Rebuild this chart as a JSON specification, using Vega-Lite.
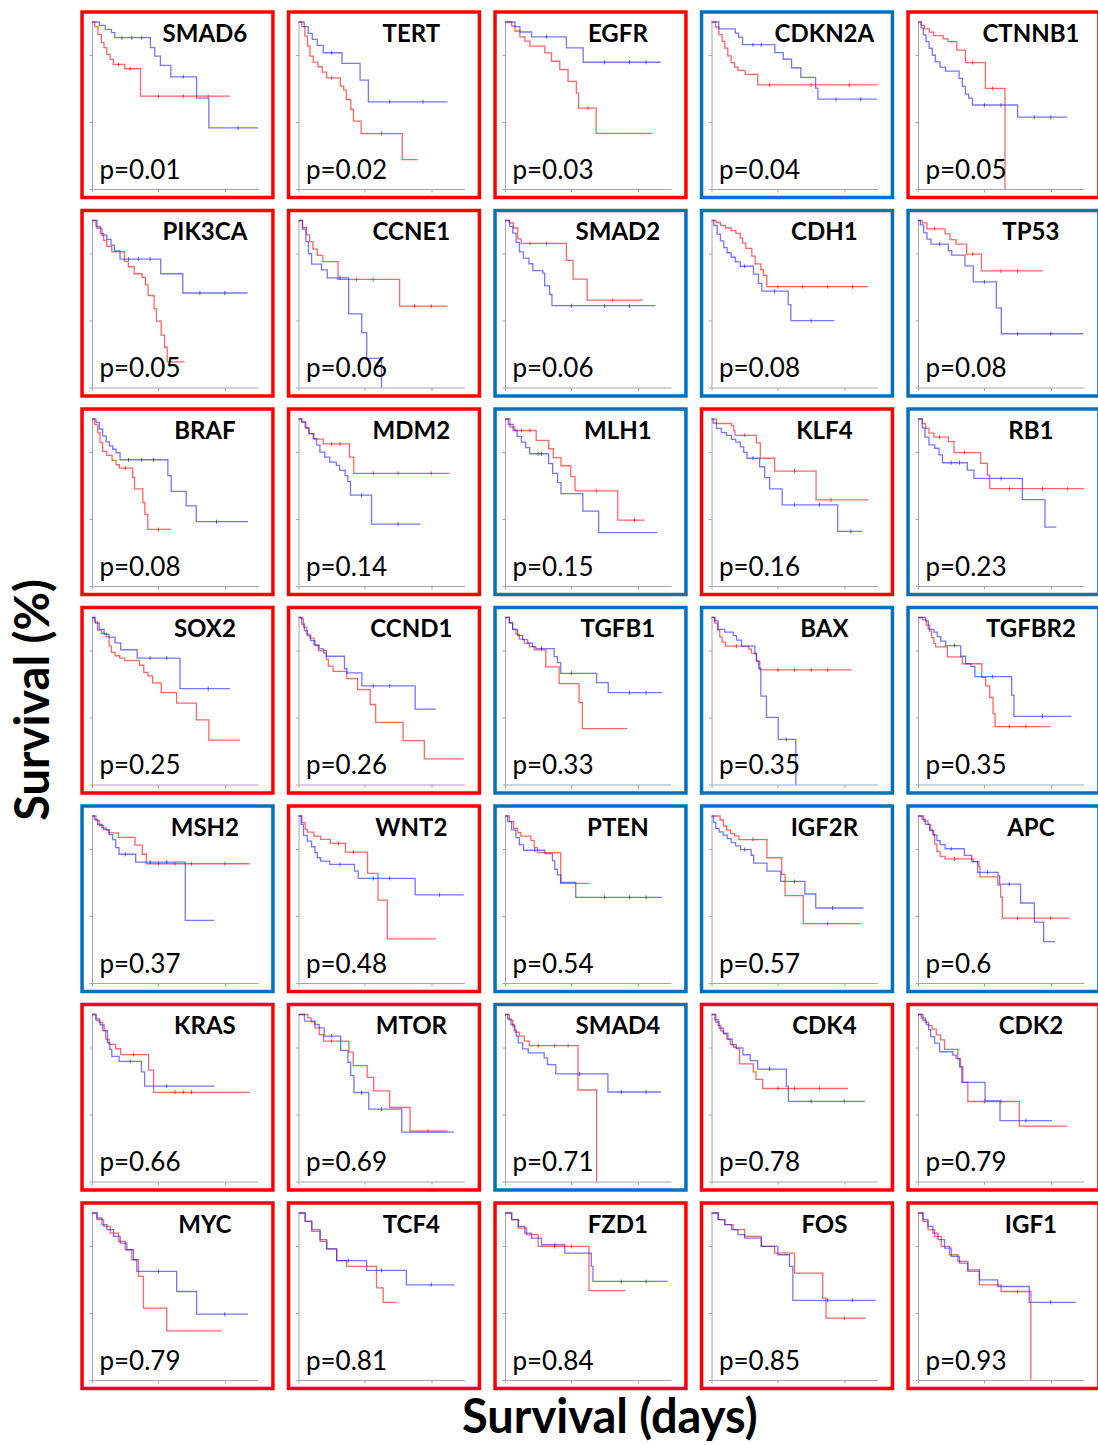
{
"$schema": "https://vega.github.io/schema/vega-lite/v6.json",
"padding": {"left": 10, "top": 10, "right": 0, "bottom": 5},
"title": {"text": "Survival (days)", "orient": "bottom", "fontSize": 47, "font": "Lato", "fontWeight": "bold", "color": "#000", "offset": 6, "dx": 451},
"datasets": {
"panels": [
{"k":"SMAD6","row":1,"col":1,"p":"p=0.01","box":"red"},
{"k":"TERT","row":1,"col":2,"p":"p=0.02","box":"red"},
{"k":"EGFR","row":1,"col":3,"p":"p=0.03","box":"red"},
{"k":"CDKN2A","row":1,"col":4,"p":"p=0.04","box":"blue"},
{"k":"CTNNB1","row":1,"col":5,"p":"p=0.05","box":"red"},
{"k":"PIK3CA","row":2,"col":1,"p":"p=0.05","box":"red"},
{"k":"CCNE1","row":2,"col":2,"p":"p=0.06","box":"red"},
{"k":"SMAD2","row":2,"col":3,"p":"p=0.06","box":"blue"},
{"k":"CDH1","row":2,"col":4,"p":"p=0.08","box":"blue"},
{"k":"TP53","row":2,"col":5,"p":"p=0.08","box":"blue"},
{"k":"BRAF","row":3,"col":1,"p":"p=0.08","box":"red"},
{"k":"MDM2","row":3,"col":2,"p":"p=0.14","box":"red"},
{"k":"MLH1","row":3,"col":3,"p":"p=0.15","box":"blue"},
{"k":"KLF4","row":3,"col":4,"p":"p=0.16","box":"red"},
{"k":"RB1","row":3,"col":5,"p":"p=0.23","box":"blue"},
{"k":"SOX2","row":4,"col":1,"p":"p=0.25","box":"red"},
{"k":"CCND1","row":4,"col":2,"p":"p=0.26","box":"red"},
{"k":"TGFB1","row":4,"col":3,"p":"p=0.33","box":"blue"},
{"k":"BAX","row":4,"col":4,"p":"p=0.35","box":"blue"},
{"k":"TGFBR2","row":4,"col":5,"p":"p=0.35","box":"blue"},
{"k":"MSH2","row":5,"col":1,"p":"p=0.37","box":"blue"},
{"k":"WNT2","row":5,"col":2,"p":"p=0.48","box":"red"},
{"k":"PTEN","row":5,"col":3,"p":"p=0.54","box":"blue"},
{"k":"IGF2R","row":5,"col":4,"p":"p=0.57","box":"blue"},
{"k":"APC","row":5,"col":5,"p":"p=0.6","box":"blue"},
{"k":"KRAS","row":6,"col":1,"p":"p=0.66","box":"red"},
{"k":"MTOR","row":6,"col":2,"p":"p=0.69","box":"red"},
{"k":"SMAD4","row":6,"col":3,"p":"p=0.71","box":"blue"},
{"k":"CDK4","row":6,"col":4,"p":"p=0.78","box":"red"},
{"k":"CDK2","row":6,"col":5,"p":"p=0.79","box":"red"},
{"k":"MYC","row":7,"col":1,"p":"p=0.79","box":"red"},
{"k":"TCF4","row":7,"col":2,"p":"p=0.81","box":"red"},
{"k":"FZD1","row":7,"col":3,"p":"p=0.84","box":"red"},
{"k":"FOS","row":7,"col":4,"p":"p=0.85","box":"red"},
{"k":"IGF1","row":7,"col":5,"p":"p=0.93","box":"red"}
],
"curves": [
{"k":"SMAD6","g":"r","t":0,"s":1},{"k":"SMAD6","g":"r","t":0.016,"s":0.972},{"k":"SMAD6","g":"r","t":0.036,"s":0.926},{"k":"SMAD6","g":"r","t":0.056,"s":0.876},{"k":"SMAD6","g":"r","t":0.072,"s":0.846},{"k":"SMAD6","g":"r","t":0.089,"s":0.806},{"k":"SMAD6","g":"r","t":0.109,"s":0.776},{"k":"SMAD6","g":"r","t":0.129,"s":0.746},{"k":"SMAD6","g":"r","t":0.197,"s":0.72},{"k":"SMAD6","g":"r","t":0.292,"s":0.556},{"k":"SMAD6","g":"r","t":0.831,"s":0.556},
{"k":"SMAD6","g":"r","t":0.16,"s":0.746,"c":1},{"k":"SMAD6","g":"r","t":0.23,"s":0.72,"c":1},{"k":"SMAD6","g":"r","t":0.4,"s":0.556,"c":1},{"k":"SMAD6","g":"r","t":0.55,"s":0.556,"c":1},{"k":"SMAD6","g":"r","t":0.7,"s":0.556,"c":1},
{"k":"SMAD6","g":"b","t":0,"s":1},{"k":"SMAD6","g":"b","t":0.044,"s":0.98},{"k":"SMAD6","g":"b","t":0.08,"s":0.956},{"k":"SMAD6","g":"b","t":0.117,"s":0.936},{"k":"SMAD6","g":"b","t":0.137,"s":0.906},{"k":"SMAD6","g":"b","t":0.352,"s":0.846},{"k":"SMAD6","g":"b","t":0.378,"s":0.796},{"k":"SMAD6","g":"b","t":0.412,"s":0.74},{"k":"SMAD6","g":"b","t":0.475,"s":0.672},{"k":"SMAD6","g":"b","t":0.63,"s":0.544},{"k":"SMAD6","g":"b","t":0.704,"s":0.366},{"k":"SMAD6","g":"b","t":1,"s":0.366},
{"k":"SMAD6","g":"b","t":0.18,"s":0.906,"c":1},{"k":"SMAD6","g":"b","t":0.24,"s":0.906,"c":1},{"k":"SMAD6","g":"b","t":0.3,"s":0.906,"c":1},{"k":"SMAD6","g":"b","t":0.55,"s":0.672,"c":1},{"k":"SMAD6","g":"b","t":0.88,"s":0.366,"c":1},

{"k":"TERT","g":"r","t":0,"s":1},{"k":"TERT","g":"r","t":0.02,"s":0.972},{"k":"TERT","g":"r","t":0.038,"s":0.916},{"k":"TERT","g":"r","t":0.054,"s":0.856},{"k":"TERT","g":"r","t":0.069,"s":0.796},{"k":"TERT","g":"r","t":0.089,"s":0.76},{"k":"TERT","g":"r","t":0.117,"s":0.732},{"k":"TERT","g":"r","t":0.143,"s":0.7},{"k":"TERT","g":"r","t":0.169,"s":0.666},{"k":"TERT","g":"r","t":0.252,"s":0.616},{"k":"TERT","g":"r","t":0.272,"s":0.592},{"k":"TERT","g":"r","t":0.288,"s":0.536},{"k":"TERT","g":"r","t":0.315,"s":0.476},{"k":"TERT","g":"r","t":0.331,"s":0.406},{"k":"TERT","g":"r","t":0.377,"s":0.332},{"k":"TERT","g":"r","t":0.625,"s":0.176},{"k":"TERT","g":"r","t":0.718,"s":0.176},
{"k":"TERT","g":"r","t":0.2,"s":0.666,"c":1},{"k":"TERT","g":"r","t":0.5,"s":0.332,"c":1},
{"k":"TERT","g":"b","t":0,"s":1},{"k":"TERT","g":"b","t":0.034,"s":0.972},{"k":"TERT","g":"b","t":0.058,"s":0.932},{"k":"TERT","g":"b","t":0.083,"s":0.896},{"k":"TERT","g":"b","t":0.113,"s":0.86},{"k":"TERT","g":"b","t":0.149,"s":0.816},{"k":"TERT","g":"b","t":0.262,"s":0.752},{"k":"TERT","g":"b","t":0.371,"s":0.652},{"k":"TERT","g":"b","t":0.421,"s":0.522},{"k":"TERT","g":"b","t":0.897,"s":0.522},
{"k":"TERT","g":"b","t":0.2,"s":0.816,"c":1},{"k":"TERT","g":"b","t":0.55,"s":0.522,"c":1},{"k":"TERT","g":"b","t":0.75,"s":0.522,"c":1},

{"k":"EGFR","g":"r","t":0,"s":1},{"k":"EGFR","g":"r","t":0.04,"s":0.976},{"k":"EGFR","g":"r","t":0.06,"s":0.946},{"k":"EGFR","g":"r","t":0.09,"s":0.911},{"k":"EGFR","g":"r","t":0.12,"s":0.886},{"k":"EGFR","g":"r","t":0.15,"s":0.855},{"k":"EGFR","g":"r","t":0.24,"s":0.815},{"k":"EGFR","g":"r","t":0.28,"s":0.765},{"k":"EGFR","g":"r","t":0.33,"s":0.715},{"k":"EGFR","g":"r","t":0.38,"s":0.645},{"k":"EGFR","g":"r","t":0.43,"s":0.574},{"k":"EGFR","g":"r","t":0.443,"s":0.484},{"k":"EGFR","g":"r","t":0.549,"s":0.333},{"k":"EGFR","g":"r","t":0.889,"s":0.333},
{"k":"EGFR","g":"r","t":0.5,"s":0.484,"c":1},
{"k":"EGFR","g":"b","t":0,"s":1},{"k":"EGFR","g":"b","t":0.06,"s":0.972},{"k":"EGFR","g":"b","t":0.09,"s":0.94},{"k":"EGFR","g":"b","t":0.16,"s":0.911},{"k":"EGFR","g":"b","t":0.37,"s":0.845},{"k":"EGFR","g":"b","t":0.471,"s":0.759},{"k":"EGFR","g":"b","t":0.938,"s":0.759},
{"k":"EGFR","g":"b","t":0.25,"s":0.911,"c":1},{"k":"EGFR","g":"b","t":0.6,"s":0.759,"c":1},{"k":"EGFR","g":"b","t":0.75,"s":0.759,"c":1},{"k":"EGFR","g":"b","t":0.85,"s":0.759,"c":1},

{"k":"CDKN2A","g":"r","t":0,"s":1},{"k":"CDKN2A","g":"r","t":0.024,"s":0.97},{"k":"CDKN2A","g":"r","t":0.044,"s":0.925},{"k":"CDKN2A","g":"r","t":0.064,"s":0.884},{"k":"CDKN2A","g":"r","t":0.08,"s":0.844},{"k":"CDKN2A","g":"r","t":0.098,"s":0.797},{"k":"CDKN2A","g":"r","t":0.118,"s":0.757},{"k":"CDKN2A","g":"r","t":0.139,"s":0.73},{"k":"CDKN2A","g":"r","t":0.159,"s":0.71},{"k":"CDKN2A","g":"r","t":0.203,"s":0.686},{"k":"CDKN2A","g":"r","t":0.279,"s":0.623},{"k":"CDKN2A","g":"r","t":1,"s":0.623},
{"k":"CDKN2A","g":"r","t":0.35,"s":0.623,"c":1},{"k":"CDKN2A","g":"r","t":0.6,"s":0.623,"c":1},{"k":"CDKN2A","g":"r","t":0.83,"s":0.623,"c":1},
{"k":"CDKN2A","g":"b","t":0,"s":1},{"k":"CDKN2A","g":"b","t":0.044,"s":0.959},{"k":"CDKN2A","g":"b","t":0.143,"s":0.933},{"k":"CDKN2A","g":"b","t":0.163,"s":0.909},{"k":"CDKN2A","g":"b","t":0.187,"s":0.864},{"k":"CDKN2A","g":"b","t":0.382,"s":0.817},{"k":"CDKN2A","g":"b","t":0.432,"s":0.777},{"k":"CDKN2A","g":"b","t":0.482,"s":0.726},{"k":"CDKN2A","g":"b","t":0.538,"s":0.669},{"k":"CDKN2A","g":"b","t":0.627,"s":0.604},{"k":"CDKN2A","g":"b","t":0.641,"s":0.538},{"k":"CDKN2A","g":"b","t":0.996,"s":0.538},
{"k":"CDKN2A","g":"b","t":0.25,"s":0.864,"c":1},{"k":"CDKN2A","g":"b","t":0.3,"s":0.864,"c":1},{"k":"CDKN2A","g":"b","t":0.75,"s":0.538,"c":1},{"k":"CDKN2A","g":"b","t":0.9,"s":0.538,"c":1},

{"k":"CTNNB1","g":"r","t":0,"s":1},{"k":"CTNNB1","g":"r","t":0.019,"s":0.98},{"k":"CTNNB1","g":"r","t":0.038,"s":0.959},{"k":"CTNNB1","g":"r","t":0.067,"s":0.939},{"k":"CTNNB1","g":"r","t":0.095,"s":0.919},{"k":"CTNNB1","g":"r","t":0.152,"s":0.899},{"k":"CTNNB1","g":"r","t":0.181,"s":0.882},{"k":"CTNNB1","g":"r","t":0.234,"s":0.832},{"k":"CTNNB1","g":"r","t":0.286,"s":0.757},{"k":"CTNNB1","g":"r","t":0.406,"s":0.602},{"k":"CTNNB1","g":"r","t":0.524,"s":0},
{"k":"CTNNB1","g":"r","t":0.33,"s":0.757,"c":1},{"k":"CTNNB1","g":"r","t":0.45,"s":0.602,"c":1},
{"k":"CTNNB1","g":"b","t":0,"s":1},{"k":"CTNNB1","g":"b","t":0.019,"s":0.963},{"k":"CTNNB1","g":"b","t":0.032,"s":0.923},{"k":"CTNNB1","g":"b","t":0.048,"s":0.882},{"k":"CTNNB1","g":"b","t":0.067,"s":0.842},{"k":"CTNNB1","g":"b","t":0.086,"s":0.801},{"k":"CTNNB1","g":"b","t":0.105,"s":0.761},{"k":"CTNNB1","g":"b","t":0.133,"s":0.73},{"k":"CTNNB1","g":"b","t":0.166,"s":0.706},{"k":"CTNNB1","g":"b","t":0.248,"s":0.663},{"k":"CTNNB1","g":"b","t":0.267,"s":0.615},{"k":"CTNNB1","g":"b","t":0.286,"s":0.568},{"k":"CTNNB1","g":"b","t":0.305,"s":0.544},{"k":"CTNNB1","g":"b","t":0.328,"s":0.503},{"k":"CTNNB1","g":"b","t":0.6,"s":0.43},{"k":"CTNNB1","g":"b","t":0.899,"s":0.43},
{"k":"CTNNB1","g":"b","t":0.4,"s":0.503,"c":1},{"k":"CTNNB1","g":"b","t":0.5,"s":0.503,"c":1},{"k":"CTNNB1","g":"b","t":0.7,"s":0.43,"c":1},{"k":"CTNNB1","g":"b","t":0.8,"s":0.43,"c":1},

{"k":"PIK3CA","g":"r","t":0,"s":1},{"k":"PIK3CA","g":"r","t":0.024,"s":0.964},{"k":"PIK3CA","g":"r","t":0.05,"s":0.922},{"k":"PIK3CA","g":"r","t":0.07,"s":0.881},{"k":"PIK3CA","g":"r","t":0.089,"s":0.845},{"k":"PIK3CA","g":"r","t":0.119,"s":0.813},{"k":"PIK3CA","g":"r","t":0.195,"s":0.755},{"k":"PIK3CA","g":"r","t":0.219,"s":0.723},{"k":"PIK3CA","g":"r","t":0.254,"s":0.681},{"k":"PIK3CA","g":"r","t":0.302,"s":0.66},{"k":"PIK3CA","g":"r","t":0.322,"s":0.614},{"k":"PIK3CA","g":"r","t":0.338,"s":0.551},{"k":"PIK3CA","g":"r","t":0.374,"s":0.472},{"k":"PIK3CA","g":"r","t":0.388,"s":0.398},{"k":"PIK3CA","g":"r","t":0.417,"s":0.314},{"k":"PIK3CA","g":"r","t":0.437,"s":0.241},{"k":"PIK3CA","g":"r","t":0.453,"s":0.153},{"k":"PIK3CA","g":"r","t":0.557,"s":0.153},
{"k":"PIK3CA","g":"b","t":0,"s":1},{"k":"PIK3CA","g":"b","t":0.03,"s":0.954},{"k":"PIK3CA","g":"b","t":0.06,"s":0.912},{"k":"PIK3CA","g":"b","t":0.089,"s":0.887},{"k":"PIK3CA","g":"b","t":0.115,"s":0.853},{"k":"PIK3CA","g":"b","t":0.135,"s":0.818},{"k":"PIK3CA","g":"b","t":0.169,"s":0.769},{"k":"PIK3CA","g":"b","t":0.414,"s":0.681},{"k":"PIK3CA","g":"b","t":0.547,"s":0.566},{"k":"PIK3CA","g":"b","t":0.938,"s":0.566},
{"k":"PIK3CA","g":"b","t":0.22,"s":0.769,"c":1},{"k":"PIK3CA","g":"b","t":0.28,"s":0.769,"c":1},{"k":"PIK3CA","g":"b","t":0.35,"s":0.769,"c":1},{"k":"PIK3CA","g":"b","t":0.65,"s":0.566,"c":1},{"k":"PIK3CA","g":"b","t":0.8,"s":0.566,"c":1},

{"k":"CCNE1","g":"r","t":0,"s":1},{"k":"CCNE1","g":"r","t":0.024,"s":0.959},{"k":"CCNE1","g":"r","t":0.048,"s":0.914},{"k":"CCNE1","g":"r","t":0.067,"s":0.873},{"k":"CCNE1","g":"r","t":0.087,"s":0.828},{"k":"CCNE1","g":"r","t":0.113,"s":0.791},{"k":"CCNE1","g":"r","t":0.147,"s":0.754},{"k":"CCNE1","g":"r","t":0.238,"s":0.647},{"k":"CCNE1","g":"r","t":0.609,"s":0.487},{"k":"CCNE1","g":"r","t":0.897,"s":0.487},
{"k":"CCNE1","g":"r","t":0.35,"s":0.647,"c":1},{"k":"CCNE1","g":"r","t":0.45,"s":0.647,"c":1},{"k":"CCNE1","g":"r","t":0.7,"s":0.487,"c":1},{"k":"CCNE1","g":"r","t":0.8,"s":0.487,"c":1},
{"k":"CCNE1","g":"b","t":0,"s":1},{"k":"CCNE1","g":"b","t":0.024,"s":0.949},{"k":"CCNE1","g":"b","t":0.044,"s":0.873},{"k":"CCNE1","g":"b","t":0.06,"s":0.801},{"k":"CCNE1","g":"b","t":0.079,"s":0.739},{"k":"CCNE1","g":"b","t":0.139,"s":0.704},{"k":"CCNE1","g":"b","t":0.173,"s":0.657},{"k":"CCNE1","g":"b","t":0.302,"s":0.441},{"k":"CCNE1","g":"b","t":0.381,"s":0.329},{"k":"CCNE1","g":"b","t":0.411,"s":0.175},{"k":"CCNE1","g":"b","t":0.5,"s":0},
{"k":"CCNE1","g":"b","t":0.25,"s":0.657,"c":1},

{"k":"SMAD2","g":"r","t":0,"s":1},{"k":"SMAD2","g":"r","t":0.027,"s":0.985},{"k":"SMAD2","g":"r","t":0.051,"s":0.955},{"k":"SMAD2","g":"r","t":0.077,"s":0.89},{"k":"SMAD2","g":"r","t":0.097,"s":0.863},{"k":"SMAD2","g":"r","t":0.37,"s":0.761},{"k":"SMAD2","g":"r","t":0.41,"s":0.649},{"k":"SMAD2","g":"r","t":0.495,"s":0.523},{"k":"SMAD2","g":"r","t":0.83,"s":0.523},
{"k":"SMAD2","g":"r","t":0.15,"s":0.863,"c":1},{"k":"SMAD2","g":"r","t":0.25,"s":0.863,"c":1},{"k":"SMAD2","g":"r","t":0.65,"s":0.523,"c":1},
{"k":"SMAD2","g":"b","t":0,"s":1},{"k":"SMAD2","g":"b","t":0.027,"s":0.965},{"k":"SMAD2","g":"b","t":0.047,"s":0.924},{"k":"SMAD2","g":"b","t":0.067,"s":0.869},{"k":"SMAD2","g":"b","t":0.087,"s":0.812},{"k":"SMAD2","g":"b","t":0.111,"s":0.775},{"k":"SMAD2","g":"b","t":0.144,"s":0.741},{"k":"SMAD2","g":"b","t":0.168,"s":0.7},{"k":"SMAD2","g":"b","t":0.228,"s":0.685},{"k":"SMAD2","g":"b","t":0.239,"s":0.608},{"k":"SMAD2","g":"b","t":0.269,"s":0.557},{"k":"SMAD2","g":"b","t":0.283,"s":0.49},{"k":"SMAD2","g":"b","t":0.905,"s":0.49},
{"k":"SMAD2","g":"b","t":0.4,"s":0.49,"c":1},{"k":"SMAD2","g":"b","t":0.6,"s":0.49,"c":1},{"k":"SMAD2","g":"b","t":0.75,"s":0.49,"c":1},

{"k":"CDH1","g":"r","t":0,"s":1},{"k":"CDH1","g":"r","t":0.028,"s":0.988},{"k":"CDH1","g":"r","t":0.054,"s":0.97},{"k":"CDH1","g":"r","t":0.084,"s":0.955},{"k":"CDH1","g":"r","t":0.118,"s":0.939},{"k":"CDH1","g":"r","t":0.147,"s":0.923},{"k":"CDH1","g":"r","t":0.173,"s":0.894},{"k":"CDH1","g":"r","t":0.187,"s":0.864},{"k":"CDH1","g":"r","t":0.207,"s":0.833},{"k":"CDH1","g":"r","t":0.243,"s":0.787},{"k":"CDH1","g":"r","t":0.263,"s":0.74},{"k":"CDH1","g":"r","t":0.297,"s":0.705},{"k":"CDH1","g":"r","t":0.313,"s":0.671},{"k":"CDH1","g":"r","t":0.333,"s":0.604},{"k":"CDH1","g":"r","t":0.944,"s":0.604},
{"k":"CDH1","g":"r","t":0.4,"s":0.604,"c":1},{"k":"CDH1","g":"r","t":0.55,"s":0.604,"c":1},{"k":"CDH1","g":"r","t":0.7,"s":0.604,"c":1},{"k":"CDH1","g":"r","t":0.85,"s":0.604,"c":1},
{"k":"CDH1","g":"b","t":0,"s":1},{"k":"CDH1","g":"b","t":0.014,"s":0.97},{"k":"CDH1","g":"b","t":0.034,"s":0.919},{"k":"CDH1","g":"b","t":0.054,"s":0.878},{"k":"CDH1","g":"b","t":0.074,"s":0.837},{"k":"CDH1","g":"b","t":0.094,"s":0.807},{"k":"CDH1","g":"b","t":0.118,"s":0.78},{"k":"CDH1","g":"b","t":0.143,"s":0.752},{"k":"CDH1","g":"b","t":0.173,"s":0.726},{"k":"CDH1","g":"b","t":0.253,"s":0.679},{"k":"CDH1","g":"b","t":0.283,"s":0.624},{"k":"CDH1","g":"b","t":0.303,"s":0.577},{"k":"CDH1","g":"b","t":0.462,"s":0.496},{"k":"CDH1","g":"b","t":0.478,"s":0.4},{"k":"CDH1","g":"b","t":0.741,"s":0.4},
{"k":"CDH1","g":"b","t":0.2,"s":0.726,"c":1},{"k":"CDH1","g":"b","t":0.38,"s":0.577,"c":1},{"k":"CDH1","g":"b","t":0.6,"s":0.4,"c":1},

{"k":"TP53","g":"r","t":0,"s":1},{"k":"TP53","g":"r","t":0.024,"s":0.986},{"k":"TP53","g":"r","t":0.054,"s":0.95},{"k":"TP53","g":"r","t":0.163,"s":0.92},{"k":"TP53","g":"r","t":0.193,"s":0.885},{"k":"TP53","g":"r","t":0.229,"s":0.859},{"k":"TP53","g":"r","t":0.293,"s":0.799},{"k":"TP53","g":"r","t":0.382,"s":0.698},{"k":"TP53","g":"r","t":0.751,"s":0.698},
{"k":"TP53","g":"r","t":0.1,"s":0.95,"c":1},{"k":"TP53","g":"r","t":0.33,"s":0.799,"c":1},{"k":"TP53","g":"r","t":0.5,"s":0.698,"c":1},{"k":"TP53","g":"r","t":0.6,"s":0.698,"c":1},
{"k":"TP53","g":"b","t":0,"s":1},{"k":"TP53","g":"b","t":0.014,"s":0.974},{"k":"TP53","g":"b","t":0.034,"s":0.926},{"k":"TP53","g":"b","t":0.054,"s":0.889},{"k":"TP53","g":"b","t":0.078,"s":0.859},{"k":"TP53","g":"b","t":0.183,"s":0.819},{"k":"TP53","g":"b","t":0.203,"s":0.793},{"k":"TP53","g":"b","t":0.283,"s":0.728},{"k":"TP53","g":"b","t":0.333,"s":0.632},{"k":"TP53","g":"b","t":0.472,"s":0.477},{"k":"TP53","g":"b","t":0.502,"s":0.322},{"k":"TP53","g":"b","t":0.994,"s":0.322},
{"k":"TP53","g":"b","t":0.13,"s":0.859,"c":1},{"k":"TP53","g":"b","t":0.4,"s":0.632,"c":1},{"k":"TP53","g":"b","t":0.6,"s":0.322,"c":1},{"k":"TP53","g":"b","t":0.8,"s":0.322,"c":1},

{"k":"BRAF","g":"r","t":0,"s":1},{"k":"BRAF","g":"r","t":0.014,"s":0.968},{"k":"BRAF","g":"r","t":0.034,"s":0.919},{"k":"BRAF","g":"r","t":0.048,"s":0.859},{"k":"BRAF","g":"r","t":0.064,"s":0.806},{"k":"BRAF","g":"r","t":0.089,"s":0.782},{"k":"BRAF","g":"r","t":0.121,"s":0.752},{"k":"BRAF","g":"r","t":0.145,"s":0.726},{"k":"BRAF","g":"r","t":0.165,"s":0.706},{"k":"BRAF","g":"r","t":0.245,"s":0.651},{"k":"BRAF","g":"r","t":0.256,"s":0.581},{"k":"BRAF","g":"r","t":0.306,"s":0.5},{"k":"BRAF","g":"r","t":0.318,"s":0.429},{"k":"BRAF","g":"r","t":0.336,"s":0.339},{"k":"BRAF","g":"r","t":0.477,"s":0.339},
{"k":"BRAF","g":"r","t":0.2,"s":0.706,"c":1},{"k":"BRAF","g":"r","t":0.4,"s":0.339,"c":1},
{"k":"BRAF","g":"b","t":0,"s":1},{"k":"BRAF","g":"b","t":0.024,"s":0.98},{"k":"BRAF","g":"b","t":0.044,"s":0.94},{"k":"BRAF","g":"b","t":0.064,"s":0.899},{"k":"BRAF","g":"b","t":0.085,"s":0.863},{"k":"BRAF","g":"b","t":0.105,"s":0.839},{"k":"BRAF","g":"b","t":0.125,"s":0.819},{"k":"BRAF","g":"b","t":0.145,"s":0.798},{"k":"BRAF","g":"b","t":0.169,"s":0.756},{"k":"BRAF","g":"b","t":0.457,"s":0.661},{"k":"BRAF","g":"b","t":0.477,"s":0.567},{"k":"BRAF","g":"b","t":0.567,"s":0.48},{"k":"BRAF","g":"b","t":0.628,"s":0.385},{"k":"BRAF","g":"b","t":0.94,"s":0.385},
{"k":"BRAF","g":"b","t":0.22,"s":0.756,"c":1},{"k":"BRAF","g":"b","t":0.3,"s":0.756,"c":1},{"k":"BRAF","g":"b","t":0.37,"s":0.756,"c":1},{"k":"BRAF","g":"b","t":0.75,"s":0.385,"c":1},

{"k":"MDM2","g":"r","t":0,"s":1},{"k":"MDM2","g":"r","t":0.02,"s":0.984},{"k":"MDM2","g":"r","t":0.04,"s":0.95},{"k":"MDM2","g":"r","t":0.063,"s":0.913},{"k":"MDM2","g":"r","t":0.093,"s":0.879},{"k":"MDM2","g":"r","t":0.149,"s":0.851},{"k":"MDM2","g":"r","t":0.307,"s":0.772},{"k":"MDM2","g":"r","t":0.333,"s":0.675},{"k":"MDM2","g":"r","t":0.911,"s":0.675},
{"k":"MDM2","g":"r","t":0.2,"s":0.851,"c":1},{"k":"MDM2","g":"r","t":0.25,"s":0.851,"c":1},{"k":"MDM2","g":"r","t":0.45,"s":0.675,"c":1},{"k":"MDM2","g":"r","t":0.6,"s":0.675,"c":1},{"k":"MDM2","g":"r","t":0.8,"s":0.675,"c":1},
{"k":"MDM2","g":"b","t":0,"s":1},{"k":"MDM2","g":"b","t":0.02,"s":0.98},{"k":"MDM2","g":"b","t":0.044,"s":0.944},{"k":"MDM2","g":"b","t":0.063,"s":0.913},{"k":"MDM2","g":"b","t":0.089,"s":0.883},{"k":"MDM2","g":"b","t":0.109,"s":0.843},{"k":"MDM2","g":"b","t":0.129,"s":0.802},{"k":"MDM2","g":"b","t":0.158,"s":0.772},{"k":"MDM2","g":"b","t":0.188,"s":0.742},{"k":"MDM2","g":"b","t":0.228,"s":0.722},{"k":"MDM2","g":"b","t":0.248,"s":0.692},{"k":"MDM2","g":"b","t":0.281,"s":0.661},{"k":"MDM2","g":"b","t":0.297,"s":0.625},{"k":"MDM2","g":"b","t":0.313,"s":0.544},{"k":"MDM2","g":"b","t":0.44,"s":0.371},{"k":"MDM2","g":"b","t":0.733,"s":0.371},
{"k":"MDM2","g":"b","t":0.38,"s":0.544,"c":1},{"k":"MDM2","g":"b","t":0.6,"s":0.371,"c":1},

{"k":"MLH1","g":"r","t":0,"s":1},{"k":"MLH1","g":"r","t":0.03,"s":0.951},{"k":"MLH1","g":"r","t":0.059,"s":0.931},{"k":"MLH1","g":"r","t":0.188,"s":0.872},{"k":"MLH1","g":"r","t":0.263,"s":0.822},{"k":"MLH1","g":"r","t":0.291,"s":0.769},{"k":"MLH1","g":"r","t":0.337,"s":0.72},{"k":"MLH1","g":"r","t":0.396,"s":0.655},{"k":"MLH1","g":"r","t":0.422,"s":0.57},{"k":"MLH1","g":"r","t":0.679,"s":0.395},{"k":"MLH1","g":"r","t":0.842,"s":0.395},
{"k":"MLH1","g":"r","t":0.1,"s":0.931,"c":1},{"k":"MLH1","g":"r","t":0.15,"s":0.931,"c":1},{"k":"MLH1","g":"r","t":0.55,"s":0.57,"c":1},{"k":"MLH1","g":"r","t":0.78,"s":0.395,"c":1},
{"k":"MLH1","g":"b","t":0,"s":1},{"k":"MLH1","g":"b","t":0.02,"s":0.967},{"k":"MLH1","g":"b","t":0.049,"s":0.931},{"k":"MLH1","g":"b","t":0.073,"s":0.896},{"k":"MLH1","g":"b","t":0.099,"s":0.862},{"k":"MLH1","g":"b","t":0.125,"s":0.828},{"k":"MLH1","g":"b","t":0.149,"s":0.792},{"k":"MLH1","g":"b","t":0.263,"s":0.733},{"k":"MLH1","g":"b","t":0.287,"s":0.674},{"k":"MLH1","g":"b","t":0.317,"s":0.619},{"k":"MLH1","g":"b","t":0.337,"s":0.553},{"k":"MLH1","g":"b","t":0.469,"s":0.448},{"k":"MLH1","g":"b","t":0.564,"s":0.32},{"k":"MLH1","g":"b","t":0.917,"s":0.32},
{"k":"MLH1","g":"b","t":0.2,"s":0.792,"c":1},{"k":"MLH1","g":"b","t":0.22,"s":0.792,"c":1},

{"k":"KLF4","g":"r","t":0,"s":1},{"k":"KLF4","g":"r","t":0.03,"s":0.973},{"k":"KLF4","g":"r","t":0.12,"s":0.959},{"k":"KLF4","g":"r","t":0.134,"s":0.929},{"k":"KLF4","g":"r","t":0.142,"s":0.902},{"k":"KLF4","g":"r","t":0.27,"s":0.857},{"k":"KLF4","g":"r","t":0.294,"s":0.765},{"k":"KLF4","g":"r","t":0.38,"s":0.688},{"k":"KLF4","g":"r","t":0.63,"s":0.516},{"k":"KLF4","g":"r","t":0.946,"s":0.516},
{"k":"KLF4","g":"r","t":0.2,"s":0.902,"c":1},{"k":"KLF4","g":"r","t":0.5,"s":0.688,"c":1},{"k":"KLF4","g":"r","t":0.72,"s":0.516,"c":1},
{"k":"KLF4","g":"b","t":0,"s":1},{"k":"KLF4","g":"b","t":0.01,"s":0.976},{"k":"KLF4","g":"b","t":0.03,"s":0.943},{"k":"KLF4","g":"b","t":0.06,"s":0.918},{"k":"KLF4","g":"b","t":0.09,"s":0.902},{"k":"KLF4","g":"b","t":0.12,"s":0.878},{"k":"KLF4","g":"b","t":0.146,"s":0.861},{"k":"KLF4","g":"b","t":0.174,"s":0.833},{"k":"KLF4","g":"b","t":0.194,"s":0.8},{"k":"KLF4","g":"b","t":0.214,"s":0.765},{"k":"KLF4","g":"b","t":0.29,"s":0.714},{"k":"KLF4","g":"b","t":0.32,"s":0.649},{"k":"KLF4","g":"b","t":0.35,"s":0.582},{"k":"KLF4","g":"b","t":0.426,"s":0.486},{"k":"KLF4","g":"b","t":0.76,"s":0.327},{"k":"KLF4","g":"b","t":0.91,"s":0.327},
{"k":"KLF4","g":"b","t":0.25,"s":0.765,"c":1},{"k":"KLF4","g":"b","t":0.5,"s":0.486,"c":1},{"k":"KLF4","g":"b","t":0.65,"s":0.486,"c":1},{"k":"KLF4","g":"b","t":0.84,"s":0.327,"c":1},

{"k":"RB1","g":"r","t":0,"s":1},{"k":"RB1","g":"r","t":0.026,"s":0.972},{"k":"RB1","g":"r","t":0.046,"s":0.944},{"k":"RB1","g":"r","t":0.066,"s":0.915},{"k":"RB1","g":"r","t":0.096,"s":0.891},{"k":"RB1","g":"r","t":0.183,"s":0.865},{"k":"RB1","g":"r","t":0.217,"s":0.799},{"k":"RB1","g":"r","t":0.378,"s":0.734},{"k":"RB1","g":"r","t":0.418,"s":0.664},{"k":"RB1","g":"r","t":0.432,"s":0.583},{"k":"RB1","g":"r","t":1,"s":0.583},
{"k":"RB1","g":"r","t":0.13,"s":0.891,"c":1},{"k":"RB1","g":"r","t":0.28,"s":0.799,"c":1},{"k":"RB1","g":"r","t":0.55,"s":0.583,"c":1},{"k":"RB1","g":"r","t":0.75,"s":0.583,"c":1},{"k":"RB1","g":"r","t":0.9,"s":0.583,"c":1},
{"k":"RB1","g":"b","t":0,"s":1},{"k":"RB1","g":"b","t":0.026,"s":0.946},{"k":"RB1","g":"b","t":0.042,"s":0.891},{"k":"RB1","g":"b","t":0.066,"s":0.845},{"k":"RB1","g":"b","t":0.1,"s":0.825},{"k":"RB1","g":"b","t":0.127,"s":0.785},{"k":"RB1","g":"b","t":0.147,"s":0.738},{"k":"RB1","g":"b","t":0.297,"s":0.694},{"k":"RB1","g":"b","t":0.337,"s":0.644},{"k":"RB1","g":"b","t":0.629,"s":0.517},{"k":"RB1","g":"b","t":0.765,"s":0.352},{"k":"RB1","g":"b","t":0.833,"s":0.352},
{"k":"RB1","g":"b","t":0.2,"s":0.738,"c":1},{"k":"RB1","g":"b","t":0.25,"s":0.738,"c":1},{"k":"RB1","g":"b","t":0.5,"s":0.644,"c":1},

{"k":"SOX2","g":"r","t":0,"s":1},{"k":"SOX2","g":"r","t":0.014,"s":0.974},{"k":"SOX2","g":"r","t":0.034,"s":0.925},{"k":"SOX2","g":"r","t":0.058,"s":0.905},{"k":"SOX2","g":"r","t":0.087,"s":0.884},{"k":"SOX2","g":"r","t":0.103,"s":0.828},{"k":"SOX2","g":"r","t":0.117,"s":0.791},{"k":"SOX2","g":"r","t":0.139,"s":0.771},{"k":"SOX2","g":"r","t":0.167,"s":0.757},{"k":"SOX2","g":"r","t":0.198,"s":0.742},{"k":"SOX2","g":"r","t":0.286,"s":0.714},{"k":"SOX2","g":"r","t":0.312,"s":0.671},{"k":"SOX2","g":"r","t":0.337,"s":0.651},{"k":"SOX2","g":"r","t":0.365,"s":0.609},{"k":"SOX2","g":"r","t":0.417,"s":0.55},{"k":"SOX2","g":"r","t":0.51,"s":0.487},{"k":"SOX2","g":"r","t":0.629,"s":0.387},{"k":"SOX2","g":"r","t":0.704,"s":0.266},{"k":"SOX2","g":"r","t":0.891,"s":0.266},
{"k":"SOX2","g":"b","t":0,"s":1},{"k":"SOX2","g":"b","t":0.02,"s":0.966},{"k":"SOX2","g":"b","t":0.044,"s":0.929},{"k":"SOX2","g":"b","t":0.073,"s":0.899},{"k":"SOX2","g":"b","t":0.103,"s":0.882},{"k":"SOX2","g":"b","t":0.139,"s":0.848},{"k":"SOX2","g":"b","t":0.173,"s":0.807},{"k":"SOX2","g":"b","t":0.272,"s":0.757},{"k":"SOX2","g":"b","t":0.53,"s":0.574},{"k":"SOX2","g":"b","t":0.831,"s":0.574},
{"k":"SOX2","g":"b","t":0.35,"s":0.757,"c":1},{"k":"SOX2","g":"b","t":0.45,"s":0.757,"c":1},{"k":"SOX2","g":"b","t":0.7,"s":0.574,"c":1},

{"k":"CCND1","g":"r","t":0,"s":1},{"k":"CCND1","g":"r","t":0.016,"s":0.994},{"k":"CCND1","g":"r","t":0.03,"s":0.941},{"k":"CCND1","g":"r","t":0.05,"s":0.901},{"k":"CCND1","g":"r","t":0.069,"s":0.877},{"k":"CCND1","g":"r","t":0.093,"s":0.838},{"k":"CCND1","g":"r","t":0.119,"s":0.802},{"k":"CCND1","g":"r","t":0.168,"s":0.749},{"k":"CCND1","g":"r","t":0.18,"s":0.709},{"k":"CCND1","g":"r","t":0.208,"s":0.677},{"k":"CCND1","g":"r","t":0.291,"s":0.634},{"k":"CCND1","g":"r","t":0.356,"s":0.568},{"k":"CCND1","g":"r","t":0.432,"s":0.479},{"k":"CCND1","g":"r","t":0.465,"s":0.372},{"k":"CCND1","g":"r","t":0.63,"s":0.263},{"k":"CCND1","g":"r","t":0.758,"s":0.154},{"k":"CCND1","g":"r","t":0.996,"s":0.154},
{"k":"CCND1","g":"b","t":0,"s":1},{"k":"CCND1","g":"b","t":0.02,"s":0.96},{"k":"CCND1","g":"b","t":0.036,"s":0.921},{"k":"CCND1","g":"b","t":0.053,"s":0.891},{"k":"CCND1","g":"b","t":0.073,"s":0.861},{"k":"CCND1","g":"b","t":0.099,"s":0.832},{"k":"CCND1","g":"b","t":0.125,"s":0.812},{"k":"CCND1","g":"b","t":0.152,"s":0.788},{"k":"CCND1","g":"b","t":0.168,"s":0.768},{"k":"CCND1","g":"b","t":0.277,"s":0.693},{"k":"CCND1","g":"b","t":0.291,"s":0.669},{"k":"CCND1","g":"b","t":0.382,"s":0.59},{"k":"CCND1","g":"b","t":0.703,"s":0.451},{"k":"CCND1","g":"b","t":0.826,"s":0.451},
{"k":"CCND1","g":"b","t":0.45,"s":0.59,"c":1},{"k":"CCND1","g":"b","t":0.55,"s":0.59,"c":1},

{"k":"TGFB1","g":"r","t":0,"s":1},{"k":"TGFB1","g":"r","t":0.026,"s":0.97},{"k":"TGFB1","g":"r","t":0.046,"s":0.93},{"k":"TGFB1","g":"r","t":0.066,"s":0.9},{"k":"TGFB1","g":"r","t":0.086,"s":0.87},{"k":"TGFB1","g":"r","t":0.116,"s":0.846},{"k":"TGFB1","g":"r","t":0.146,"s":0.826},{"k":"TGFB1","g":"r","t":0.176,"s":0.806},{"k":"TGFB1","g":"r","t":0.246,"s":0.704},{"k":"TGFB1","g":"r","t":0.326,"s":0.604},{"k":"TGFB1","g":"r","t":0.446,"s":0.49},{"k":"TGFB1","g":"r","t":0.466,"s":0.334},{"k":"TGFB1","g":"r","t":0.736,"s":0.334},
{"k":"TGFB1","g":"b","t":0,"s":1},{"k":"TGFB1","g":"b","t":0.026,"s":0.967},{"k":"TGFB1","g":"b","t":0.046,"s":0.927},{"k":"TGFB1","g":"b","t":0.076,"s":0.891},{"k":"TGFB1","g":"b","t":0.106,"s":0.867},{"k":"TGFB1","g":"b","t":0.136,"s":0.847},{"k":"TGFB1","g":"b","t":0.166,"s":0.826},{"k":"TGFB1","g":"b","t":0.186,"s":0.814},{"k":"TGFB1","g":"b","t":0.296,"s":0.766},{"k":"TGFB1","g":"b","t":0.316,"s":0.73},{"k":"TGFB1","g":"b","t":0.336,"s":0.666},{"k":"TGFB1","g":"b","t":0.552,"s":0.61},{"k":"TGFB1","g":"b","t":0.622,"s":0.55},{"k":"TGFB1","g":"b","t":0.946,"s":0.55},
{"k":"TGFB1","g":"b","t":0.22,"s":0.814,"c":1},{"k":"TGFB1","g":"b","t":0.4,"s":0.666,"c":1},{"k":"TGFB1","g":"b","t":0.75,"s":0.55,"c":1},{"k":"TGFB1","g":"b","t":0.85,"s":0.55,"c":1},

{"k":"BAX","g":"r","t":0,"s":1},{"k":"BAX","g":"r","t":0.02,"s":0.966},{"k":"BAX","g":"r","t":0.036,"s":0.925},{"k":"BAX","g":"r","t":0.05,"s":0.884},{"k":"BAX","g":"r","t":0.064,"s":0.852},{"k":"BAX","g":"r","t":0.084,"s":0.828},{"k":"BAX","g":"r","t":0.225,"s":0.811},{"k":"BAX","g":"r","t":0.241,"s":0.787},{"k":"BAX","g":"r","t":0.271,"s":0.736},{"k":"BAX","g":"r","t":0.291,"s":0.686},{"k":"BAX","g":"r","t":0.843,"s":0.686},
{"k":"BAX","g":"r","t":0.15,"s":0.828,"c":1},{"k":"BAX","g":"r","t":0.4,"s":0.686,"c":1},{"k":"BAX","g":"r","t":0.5,"s":0.686,"c":1},{"k":"BAX","g":"r","t":0.6,"s":0.686,"c":1},{"k":"BAX","g":"r","t":0.7,"s":0.686,"c":1},
{"k":"BAX","g":"b","t":0,"s":1},{"k":"BAX","g":"b","t":0.02,"s":0.98},{"k":"BAX","g":"b","t":0.04,"s":0.929},{"k":"BAX","g":"b","t":0.08,"s":0.913},{"k":"BAX","g":"b","t":0.131,"s":0.892},{"k":"BAX","g":"b","t":0.151,"s":0.864},{"k":"BAX","g":"b","t":0.181,"s":0.828},{"k":"BAX","g":"b","t":0.261,"s":0.783},{"k":"BAX","g":"b","t":0.271,"s":0.742},{"k":"BAX","g":"b","t":0.285,"s":0.696},{"k":"BAX","g":"b","t":0.297,"s":0.529},{"k":"BAX","g":"b","t":0.331,"s":0.402},{"k":"BAX","g":"b","t":0.402,"s":0.27},{"k":"BAX","g":"b","t":0.508,"s":0},
{"k":"BAX","g":"b","t":0.45,"s":0.27,"c":1},

{"k":"TGFBR2","g":"r","t":0,"s":1},{"k":"TGFBR2","g":"r","t":0.026,"s":0.986},{"k":"TGFBR2","g":"r","t":0.05,"s":0.954},{"k":"TGFBR2","g":"r","t":0.07,"s":0.919},{"k":"TGFBR2","g":"r","t":0.082,"s":0.879},{"k":"TGFBR2","g":"r","t":0.096,"s":0.844},{"k":"TGFBR2","g":"r","t":0.106,"s":0.824},{"k":"TGFBR2","g":"r","t":0.177,"s":0.764},{"k":"TGFBR2","g":"r","t":0.267,"s":0.723},{"k":"TGFBR2","g":"r","t":0.384,"s":0.642},{"k":"TGFBR2","g":"r","t":0.408,"s":0.59},{"k":"TGFBR2","g":"r","t":0.432,"s":0.521},{"k":"TGFBR2","g":"r","t":0.452,"s":0.424},{"k":"TGFBR2","g":"r","t":0.464,"s":0.347},{"k":"TGFBR2","g":"r","t":0.799,"s":0.347},
{"k":"TGFBR2","g":"r","t":0.55,"s":0.347,"c":1},{"k":"TGFBR2","g":"r","t":0.65,"s":0.347,"c":1},
{"k":"TGFBR2","g":"b","t":0,"s":1},{"k":"TGFBR2","g":"b","t":0.046,"s":0.98},{"k":"TGFBR2","g":"b","t":0.062,"s":0.929},{"k":"TGFBR2","g":"b","t":0.096,"s":0.913},{"k":"TGFBR2","g":"b","t":0.116,"s":0.885},{"k":"TGFBR2","g":"b","t":0.137,"s":0.859},{"k":"TGFBR2","g":"b","t":0.167,"s":0.832},{"k":"TGFBR2","g":"b","t":0.257,"s":0.768},{"k":"TGFBR2","g":"b","t":0.287,"s":0.723},{"k":"TGFBR2","g":"b","t":0.319,"s":0.707},{"k":"TGFBR2","g":"b","t":0.343,"s":0.646},{"k":"TGFBR2","g":"b","t":0.564,"s":0.535},{"k":"TGFBR2","g":"b","t":0.578,"s":0.408},{"k":"TGFBR2","g":"b","t":0.924,"s":0.408},
{"k":"TGFBR2","g":"b","t":0.22,"s":0.832,"c":1},{"k":"TGFBR2","g":"b","t":0.45,"s":0.646,"c":1},{"k":"TGFBR2","g":"b","t":0.75,"s":0.408,"c":1},

{"k":"MSH2","g":"r","t":0,"s":1},{"k":"MSH2","g":"r","t":0.024,"s":0.972},{"k":"MSH2","g":"r","t":0.044,"s":0.943},{"k":"MSH2","g":"r","t":0.068,"s":0.919},{"k":"MSH2","g":"r","t":0.098,"s":0.899},{"k":"MSH2","g":"r","t":0.159,"s":0.872},{"k":"MSH2","g":"r","t":0.259,"s":0.826},{"k":"MSH2","g":"r","t":0.303,"s":0.771},{"k":"MSH2","g":"r","t":0.327,"s":0.714},{"k":"MSH2","g":"r","t":0.95,"s":0.714},
{"k":"MSH2","g":"r","t":0.4,"s":0.714,"c":1},{"k":"MSH2","g":"r","t":0.5,"s":0.714,"c":1},{"k":"MSH2","g":"r","t":0.6,"s":0.714,"c":1},{"k":"MSH2","g":"r","t":0.8,"s":0.714,"c":1},
{"k":"MSH2","g":"b","t":0,"s":1},{"k":"MSH2","g":"b","t":0.014,"s":0.98},{"k":"MSH2","g":"b","t":0.034,"s":0.949},{"k":"MSH2","g":"b","t":0.06,"s":0.929},{"k":"MSH2","g":"b","t":0.084,"s":0.917},{"k":"MSH2","g":"b","t":0.104,"s":0.888},{"k":"MSH2","g":"b","t":0.124,"s":0.858},{"k":"MSH2","g":"b","t":0.143,"s":0.811},{"k":"MSH2","g":"b","t":0.163,"s":0.771},{"k":"MSH2","g":"b","t":0.263,"s":0.724},{"k":"MSH2","g":"b","t":0.562,"s":0.375},{"k":"MSH2","g":"b","t":0.737,"s":0.375},
{"k":"MSH2","g":"b","t":0.2,"s":0.771,"c":1},{"k":"MSH2","g":"b","t":0.35,"s":0.724,"c":1},{"k":"MSH2","g":"b","t":0.45,"s":0.724,"c":1},

{"k":"WNT2","g":"r","t":0,"s":1},{"k":"WNT2","g":"r","t":0.02,"s":0.96},{"k":"WNT2","g":"r","t":0.04,"s":0.92},{"k":"WNT2","g":"r","t":0.053,"s":0.904},{"k":"WNT2","g":"r","t":0.093,"s":0.88},{"k":"WNT2","g":"r","t":0.133,"s":0.86},{"k":"WNT2","g":"r","t":0.192,"s":0.836},{"k":"WNT2","g":"r","t":0.283,"s":0.784},{"k":"WNT2","g":"r","t":0.416,"s":0.656},{"k":"WNT2","g":"r","t":0.479,"s":0.496},{"k":"WNT2","g":"r","t":0.535,"s":0.264},{"k":"WNT2","g":"r","t":0.828,"s":0.264},
{"k":"WNT2","g":"r","t":0.24,"s":0.836,"c":1},{"k":"WNT2","g":"r","t":0.33,"s":0.784,"c":1},
{"k":"WNT2","g":"b","t":0,"s":1},{"k":"WNT2","g":"b","t":0.016,"s":0.95},{"k":"WNT2","g":"b","t":0.03,"s":0.884},{"k":"WNT2","g":"b","t":0.053,"s":0.85},{"k":"WNT2","g":"b","t":0.079,"s":0.816},{"k":"WNT2","g":"b","t":0.099,"s":0.78},{"k":"WNT2","g":"b","t":0.113,"s":0.75},{"k":"WNT2","g":"b","t":0.133,"s":0.73},{"k":"WNT2","g":"b","t":0.188,"s":0.71},{"k":"WNT2","g":"b","t":0.337,"s":0.67},{"k":"WNT2","g":"b","t":0.36,"s":0.626},{"k":"WNT2","g":"b","t":0.703,"s":0.528},{"k":"WNT2","g":"b","t":0.996,"s":0.528},
{"k":"WNT2","g":"b","t":0.25,"s":0.71,"c":1},{"k":"WNT2","g":"b","t":0.45,"s":0.626,"c":1},{"k":"WNT2","g":"b","t":0.55,"s":0.626,"c":1},{"k":"WNT2","g":"b","t":0.85,"s":0.528,"c":1},

{"k":"PTEN","g":"r","t":0,"s":1},{"k":"PTEN","g":"r","t":0.026,"s":0.966},{"k":"PTEN","g":"r","t":0.052,"s":0.926},{"k":"PTEN","g":"r","t":0.076,"s":0.9},{"k":"PTEN","g":"r","t":0.096,"s":0.88},{"k":"PTEN","g":"r","t":0.156,"s":0.854},{"k":"PTEN","g":"r","t":0.176,"s":0.811},{"k":"PTEN","g":"r","t":0.196,"s":0.781},{"k":"PTEN","g":"r","t":0.336,"s":0.596},{"k":"PTEN","g":"r","t":0.506,"s":0.596},
{"k":"PTEN","g":"b","t":0,"s":1},{"k":"PTEN","g":"b","t":0.016,"s":0.966},{"k":"PTEN","g":"b","t":0.04,"s":0.917},{"k":"PTEN","g":"b","t":0.066,"s":0.87},{"k":"PTEN","g":"b","t":0.086,"s":0.827},{"k":"PTEN","g":"b","t":0.112,"s":0.795},{"k":"PTEN","g":"b","t":0.24,"s":0.775},{"k":"PTEN","g":"b","t":0.286,"s":0.731},{"k":"PTEN","g":"b","t":0.3,"s":0.681},{"k":"PTEN","g":"b","t":0.316,"s":0.648},{"k":"PTEN","g":"b","t":0.336,"s":0.602},{"k":"PTEN","g":"b","t":0.426,"s":0.513},{"k":"PTEN","g":"b","t":0.946,"s":0.513},
{"k":"PTEN","g":"b","t":0.18,"s":0.795,"c":1},{"k":"PTEN","g":"b","t":0.6,"s":0.513,"c":1},{"k":"PTEN","g":"b","t":0.75,"s":0.513,"c":1},{"k":"PTEN","g":"b","t":0.85,"s":0.513,"c":1},

{"k":"IGF2R","g":"r","t":0,"s":1},{"k":"IGF2R","g":"r","t":0.052,"s":0.976},{"k":"IGF2R","g":"r","t":0.072,"s":0.94},{"k":"IGF2R","g":"r","t":0.091,"s":0.915},{"k":"IGF2R","g":"r","t":0.115,"s":0.895},{"k":"IGF2R","g":"r","t":0.139,"s":0.881},{"k":"IGF2R","g":"r","t":0.165,"s":0.859},{"k":"IGF2R","g":"r","t":0.334,"s":0.75},{"k":"IGF2R","g":"r","t":0.423,"s":0.65},{"k":"IGF2R","g":"r","t":0.443,"s":0.523},{"k":"IGF2R","g":"r","t":0.553,"s":0.356},{"k":"IGF2R","g":"r","t":0.901,"s":0.356},
{"k":"IGF2R","g":"r","t":0.25,"s":0.859,"c":1},{"k":"IGF2R","g":"r","t":0.7,"s":0.356,"c":1},
{"k":"IGF2R","g":"b","t":0,"s":1},{"k":"IGF2R","g":"b","t":0.012,"s":0.962},{"k":"IGF2R","g":"b","t":0.026,"s":0.926},{"k":"IGF2R","g":"b","t":0.046,"s":0.905},{"k":"IGF2R","g":"b","t":0.07,"s":0.885},{"k":"IGF2R","g":"b","t":0.095,"s":0.865},{"k":"IGF2R","g":"b","t":0.119,"s":0.841},{"k":"IGF2R","g":"b","t":0.145,"s":0.821},{"k":"IGF2R","g":"b","t":0.175,"s":0.799},{"k":"IGF2R","g":"b","t":0.239,"s":0.765},{"k":"IGF2R","g":"b","t":0.254,"s":0.718},{"k":"IGF2R","g":"b","t":0.334,"s":0.67},{"k":"IGF2R","g":"b","t":0.417,"s":0.608},{"k":"IGF2R","g":"b","t":0.563,"s":0.533},{"k":"IGF2R","g":"b","t":0.628,"s":0.449},{"k":"IGF2R","g":"b","t":0.915,"s":0.449},
{"k":"IGF2R","g":"b","t":0.2,"s":0.799,"c":1},{"k":"IGF2R","g":"b","t":0.5,"s":0.608,"c":1},{"k":"IGF2R","g":"b","t":0.73,"s":0.449,"c":1},

{"k":"APC","g":"r","t":0,"s":1},{"k":"APC","g":"r","t":0.034,"s":0.97},{"k":"APC","g":"r","t":0.06,"s":0.95},{"k":"APC","g":"r","t":0.074,"s":0.919},{"k":"APC","g":"r","t":0.088,"s":0.889},{"k":"APC","g":"r","t":0.1,"s":0.832},{"k":"APC","g":"r","t":0.114,"s":0.788},{"k":"APC","g":"r","t":0.133,"s":0.758},{"k":"APC","g":"r","t":0.163,"s":0.743},{"k":"APC","g":"r","t":0.333,"s":0.727},{"k":"APC","g":"r","t":0.367,"s":0.697},{"k":"APC","g":"r","t":0.373,"s":0.636},{"k":"APC","g":"r","t":0.482,"s":0.586},{"k":"APC","g":"r","t":0.498,"s":0.515},{"k":"APC","g":"r","t":0.508,"s":0.388},{"k":"APC","g":"r","t":0.91,"s":0.388},
{"k":"APC","g":"r","t":0.22,"s":0.743,"c":1},{"k":"APC","g":"r","t":0.6,"s":0.388,"c":1},{"k":"APC","g":"r","t":0.8,"s":0.388,"c":1},
{"k":"APC","g":"b","t":0,"s":1},{"k":"APC","g":"b","t":0.024,"s":0.98},{"k":"APC","g":"b","t":0.044,"s":0.95},{"k":"APC","g":"b","t":0.07,"s":0.913},{"k":"APC","g":"b","t":0.094,"s":0.885},{"k":"APC","g":"b","t":0.114,"s":0.853},{"k":"APC","g":"b","t":0.133,"s":0.828},{"k":"APC","g":"b","t":0.163,"s":0.804},{"k":"APC","g":"b","t":0.279,"s":0.764},{"k":"APC","g":"b","t":0.323,"s":0.727},{"k":"APC","g":"b","t":0.359,"s":0.663},{"k":"APC","g":"b","t":0.482,"s":0.642},{"k":"APC","g":"b","t":0.492,"s":0.592},{"k":"APC","g":"b","t":0.618,"s":0.479},{"k":"APC","g":"b","t":0.701,"s":0.364},{"k":"APC","g":"b","t":0.757,"s":0.248},{"k":"APC","g":"b","t":0.825,"s":0.248},
{"k":"APC","g":"b","t":0.2,"s":0.804,"c":1},{"k":"APC","g":"b","t":0.42,"s":0.663,"c":1},{"k":"APC","g":"b","t":0.55,"s":0.592,"c":1},

{"k":"KRAS","g":"r","t":0,"s":1},{"k":"KRAS","g":"r","t":0.024,"s":0.975},{"k":"KRAS","g":"r","t":0.044,"s":0.951},{"k":"KRAS","g":"r","t":0.063,"s":0.903},{"k":"KRAS","g":"r","t":0.083,"s":0.852},{"k":"KRAS","g":"r","t":0.103,"s":0.821},{"k":"KRAS","g":"r","t":0.143,"s":0.795},{"k":"KRAS","g":"r","t":0.173,"s":0.76},{"k":"KRAS","g":"r","t":0.341,"s":0.667},{"k":"KRAS","g":"r","t":0.371,"s":0.534},{"k":"KRAS","g":"r","t":0.95,"s":0.534},
{"k":"KRAS","g":"r","t":0.25,"s":0.76,"c":1},{"k":"KRAS","g":"r","t":0.5,"s":0.534,"c":1},{"k":"KRAS","g":"r","t":0.55,"s":0.534,"c":1},{"k":"KRAS","g":"r","t":0.6,"s":0.534,"c":1},
{"k":"KRAS","g":"b","t":0,"s":1},{"k":"KRAS","g":"b","t":0.024,"s":0.965},{"k":"KRAS","g":"b","t":0.048,"s":0.938},{"k":"KRAS","g":"b","t":0.073,"s":0.903},{"k":"KRAS","g":"b","t":0.093,"s":0.832},{"k":"KRAS","g":"b","t":0.107,"s":0.791},{"k":"KRAS","g":"b","t":0.119,"s":0.749},{"k":"KRAS","g":"b","t":0.163,"s":0.719},{"k":"KRAS","g":"b","t":0.298,"s":0.657},{"k":"KRAS","g":"b","t":0.317,"s":0.571},{"k":"KRAS","g":"b","t":0.738,"s":0.571},
{"k":"KRAS","g":"b","t":0.23,"s":0.719,"c":1},{"k":"KRAS","g":"b","t":0.45,"s":0.571,"c":1},

{"k":"MTOR","g":"r","t":0,"s":1},{"k":"MTOR","g":"r","t":0.056,"s":0.98},{"k":"MTOR","g":"r","t":0.076,"s":0.956},{"k":"MTOR","g":"r","t":0.099,"s":0.92},{"k":"MTOR","g":"r","t":0.125,"s":0.879},{"k":"MTOR","g":"r","t":0.151,"s":0.841},{"k":"MTOR","g":"r","t":0.304,"s":0.775},{"k":"MTOR","g":"r","t":0.33,"s":0.694},{"k":"MTOR","g":"r","t":0.414,"s":0.624},{"k":"MTOR","g":"r","t":0.453,"s":0.543},{"k":"MTOR","g":"r","t":0.549,"s":0.443},{"k":"MTOR","g":"r","t":0.672,"s":0.302},{"k":"MTOR","g":"r","t":0.897,"s":0.302},
{"k":"MTOR","g":"r","t":0.2,"s":0.841,"c":1},{"k":"MTOR","g":"r","t":0.78,"s":0.302,"c":1},
{"k":"MTOR","g":"b","t":0,"s":1},{"k":"MTOR","g":"b","t":0.036,"s":0.96},{"k":"MTOR","g":"b","t":0.099,"s":0.94},{"k":"MTOR","g":"b","t":0.125,"s":0.92},{"k":"MTOR","g":"b","t":0.155,"s":0.871},{"k":"MTOR","g":"b","t":0.254,"s":0.785},{"k":"MTOR","g":"b","t":0.298,"s":0.714},{"k":"MTOR","g":"b","t":0.314,"s":0.634},{"k":"MTOR","g":"b","t":0.334,"s":0.533},{"k":"MTOR","g":"b","t":0.423,"s":0.433},{"k":"MTOR","g":"b","t":0.622,"s":0.296},{"k":"MTOR","g":"b","t":0.936,"s":0.296},
{"k":"MTOR","g":"b","t":0.2,"s":0.871,"c":1},{"k":"MTOR","g":"b","t":0.38,"s":0.533,"c":1},{"k":"MTOR","g":"b","t":0.5,"s":0.433,"c":1},

{"k":"SMAD4","g":"r","t":0,"s":1},{"k":"SMAD4","g":"r","t":0.026,"s":0.966},{"k":"SMAD4","g":"r","t":0.046,"s":0.93},{"k":"SMAD4","g":"r","t":0.06,"s":0.894},{"k":"SMAD4","g":"r","t":0.086,"s":0.87},{"k":"SMAD4","g":"r","t":0.116,"s":0.84},{"k":"SMAD4","g":"r","t":0.146,"s":0.814},{"k":"SMAD4","g":"r","t":0.44,"s":0.548},{"k":"SMAD4","g":"r","t":0.552,"s":0},
{"k":"SMAD4","g":"r","t":0.2,"s":0.814,"c":1},{"k":"SMAD4","g":"r","t":0.3,"s":0.814,"c":1},{"k":"SMAD4","g":"r","t":0.38,"s":0.814,"c":1},
{"k":"SMAD4","g":"b","t":0,"s":1},{"k":"SMAD4","g":"b","t":0.016,"s":0.974},{"k":"SMAD4","g":"b","t":0.036,"s":0.94},{"k":"SMAD4","g":"b","t":0.056,"s":0.906},{"k":"SMAD4","g":"b","t":0.068,"s":0.87},{"k":"SMAD4","g":"b","t":0.08,"s":0.83},{"k":"SMAD4","g":"b","t":0.106,"s":0.794},{"k":"SMAD4","g":"b","t":0.14,"s":0.77},{"k":"SMAD4","g":"b","t":0.236,"s":0.74},{"k":"SMAD4","g":"b","t":0.256,"s":0.7},{"k":"SMAD4","g":"b","t":0.306,"s":0.644},{"k":"SMAD4","g":"b","t":0.62,"s":0.536},{"k":"SMAD4","g":"b","t":0.94,"s":0.536},
{"k":"SMAD4","g":"b","t":0.45,"s":0.644,"c":1},{"k":"SMAD4","g":"b","t":0.7,"s":0.536,"c":1},{"k":"SMAD4","g":"b","t":0.85,"s":0.536,"c":1},

{"k":"CDK4","g":"r","t":0,"s":1},{"k":"CDK4","g":"r","t":0.02,"s":0.969},{"k":"CDK4","g":"r","t":0.04,"s":0.935},{"k":"CDK4","g":"r","t":0.056,"s":0.902},{"k":"CDK4","g":"r","t":0.074,"s":0.882},{"k":"CDK4","g":"r","t":0.093,"s":0.853},{"k":"CDK4","g":"r","t":0.113,"s":0.82},{"k":"CDK4","g":"r","t":0.133,"s":0.804},{"k":"CDK4","g":"r","t":0.149,"s":0.796},{"k":"CDK4","g":"r","t":0.169,"s":0.704},{"k":"CDK4","g":"r","t":0.252,"s":0.657},{"k":"CDK4","g":"r","t":0.268,"s":0.612},{"k":"CDK4","g":"r","t":0.308,"s":0.557},{"k":"CDK4","g":"r","t":0.821,"s":0.557},
{"k":"CDK4","g":"r","t":0.4,"s":0.557,"c":1},{"k":"CDK4","g":"r","t":0.5,"s":0.557,"c":1},{"k":"CDK4","g":"r","t":0.65,"s":0.557,"c":1},
{"k":"CDK4","g":"b","t":0,"s":1},{"k":"CDK4","g":"b","t":0.026,"s":0.955},{"k":"CDK4","g":"b","t":0.046,"s":0.918},{"k":"CDK4","g":"b","t":0.07,"s":0.888},{"k":"CDK4","g":"b","t":0.099,"s":0.853},{"k":"CDK4","g":"b","t":0.125,"s":0.82},{"k":"CDK4","g":"b","t":0.149,"s":0.8},{"k":"CDK4","g":"b","t":0.189,"s":0.759},{"k":"CDK4","g":"b","t":0.233,"s":0.724},{"k":"CDK4","g":"b","t":0.278,"s":0.673},{"k":"CDK4","g":"b","t":0.451,"s":0.571},{"k":"CDK4","g":"b","t":0.463,"s":0.48},{"k":"CDK4","g":"b","t":0.924,"s":0.48},
{"k":"CDK4","g":"b","t":0.35,"s":0.673,"c":1},{"k":"CDK4","g":"b","t":0.6,"s":0.48,"c":1},{"k":"CDK4","g":"b","t":0.8,"s":0.48,"c":1},

{"k":"CDK2","g":"r","t":0,"s":1},{"k":"CDK2","g":"r","t":0.02,"s":0.98},{"k":"CDK2","g":"r","t":0.044,"s":0.953},{"k":"CDK2","g":"r","t":0.064,"s":0.933},{"k":"CDK2","g":"r","t":0.084,"s":0.913},{"k":"CDK2","g":"r","t":0.11,"s":0.878},{"k":"CDK2","g":"r","t":0.136,"s":0.848},{"k":"CDK2","g":"r","t":0.16,"s":0.791},{"k":"CDK2","g":"r","t":0.24,"s":0.736},{"k":"CDK2","g":"r","t":0.256,"s":0.686},{"k":"CDK2","g":"r","t":0.27,"s":0.594},{"k":"CDK2","g":"r","t":0.3,"s":0.479},{"k":"CDK2","g":"r","t":0.61,"s":0.331},{"k":"CDK2","g":"r","t":0.9,"s":0.331},
{"k":"CDK2","g":"r","t":0.4,"s":0.479,"c":1},{"k":"CDK2","g":"r","t":0.5,"s":0.479,"c":1},
{"k":"CDK2","g":"b","t":0,"s":1},{"k":"CDK2","g":"b","t":0.03,"s":0.966},{"k":"CDK2","g":"b","t":0.05,"s":0.939},{"k":"CDK2","g":"b","t":0.064,"s":0.909},{"k":"CDK2","g":"b","t":0.076,"s":0.868},{"k":"CDK2","g":"b","t":0.1,"s":0.828},{"k":"CDK2","g":"b","t":0.13,"s":0.777},{"k":"CDK2","g":"b","t":0.21,"s":0.757},{"k":"CDK2","g":"b","t":0.23,"s":0.736},{"k":"CDK2","g":"b","t":0.25,"s":0.686},{"k":"CDK2","g":"b","t":0.264,"s":0.594},{"k":"CDK2","g":"b","t":0.404,"s":0.483},{"k":"CDK2","g":"b","t":0.494,"s":0.365},{"k":"CDK2","g":"b","t":0.806,"s":0.365},
{"k":"CDK2","g":"b","t":0.65,"s":0.365,"c":1},

{"k":"MYC","g":"r","t":0,"s":1},{"k":"MYC","g":"r","t":0.03,"s":0.96},{"k":"MYC","g":"r","t":0.07,"s":0.92},{"k":"MYC","g":"r","t":0.11,"s":0.88},{"k":"MYC","g":"r","t":0.16,"s":0.83},{"k":"MYC","g":"r","t":0.2,"s":0.78},{"k":"MYC","g":"r","t":0.24,"s":0.72},{"k":"MYC","g":"r","t":0.28,"s":0.62},{"k":"MYC","g":"r","t":0.31,"s":0.43},{"k":"MYC","g":"r","t":0.45,"s":0.294},{"k":"MYC","g":"r","t":0.78,"s":0.294},
{"k":"MYC","g":"b","t":0,"s":1},{"k":"MYC","g":"b","t":0.03,"s":0.97},{"k":"MYC","g":"b","t":0.06,"s":0.93},{"k":"MYC","g":"b","t":0.09,"s":0.9},{"k":"MYC","g":"b","t":0.13,"s":0.86},{"k":"MYC","g":"b","t":0.17,"s":0.82},{"k":"MYC","g":"b","t":0.21,"s":0.78},{"k":"MYC","g":"b","t":0.25,"s":0.72},{"k":"MYC","g":"b","t":0.27,"s":0.65},{"k":"MYC","g":"b","t":0.51,"s":0.53},{"k":"MYC","g":"b","t":0.63,"s":0.394},{"k":"MYC","g":"b","t":0.94,"s":0.394},
{"k":"MYC","g":"b","t":0.4,"s":0.65,"c":1},{"k":"MYC","g":"b","t":0.8,"s":0.394,"c":1},

{"k":"TCF4","g":"r","t":0,"s":1},{"k":"TCF4","g":"r","t":0.04,"s":0.95},{"k":"TCF4","g":"r","t":0.08,"s":0.89},{"k":"TCF4","g":"r","t":0.13,"s":0.83},{"k":"TCF4","g":"r","t":0.17,"s":0.785},{"k":"TCF4","g":"r","t":0.23,"s":0.715},{"k":"TCF4","g":"r","t":0.29,"s":0.68},{"k":"TCF4","g":"r","t":0.47,"s":0.552},{"k":"TCF4","g":"r","t":0.51,"s":0.465},{"k":"TCF4","g":"r","t":0.59,"s":0.465},
{"k":"TCF4","g":"b","t":0,"s":1},{"k":"TCF4","g":"b","t":0.04,"s":0.95},{"k":"TCF4","g":"b","t":0.08,"s":0.9},{"k":"TCF4","g":"b","t":0.13,"s":0.84},{"k":"TCF4","g":"b","t":0.17,"s":0.785},{"k":"TCF4","g":"b","t":0.23,"s":0.715},{"k":"TCF4","g":"b","t":0.41,"s":0.657},{"k":"TCF4","g":"b","t":0.65,"s":0.57},{"k":"TCF4","g":"b","t":0.94,"s":0.57},
{"k":"TCF4","g":"b","t":0.3,"s":0.715,"c":1},{"k":"TCF4","g":"b","t":0.5,"s":0.657,"c":1},{"k":"TCF4","g":"b","t":0.8,"s":0.57,"c":1},

{"k":"FZD1","g":"r","t":0,"s":1},{"k":"FZD1","g":"r","t":0.04,"s":0.96},{"k":"FZD1","g":"r","t":0.08,"s":0.91},{"k":"FZD1","g":"r","t":0.13,"s":0.87},{"k":"FZD1","g":"r","t":0.2,"s":0.8},{"k":"FZD1","g":"r","t":0.506,"s":0.535},{"k":"FZD1","g":"r","t":0.726,"s":0.535},
{"k":"FZD1","g":"r","t":0.3,"s":0.8,"c":1},{"k":"FZD1","g":"r","t":0.4,"s":0.8,"c":1},
{"k":"FZD1","g":"b","t":0,"s":1},{"k":"FZD1","g":"b","t":0.04,"s":0.96},{"k":"FZD1","g":"b","t":0.08,"s":0.92},{"k":"FZD1","g":"b","t":0.12,"s":0.88},{"k":"FZD1","g":"b","t":0.16,"s":0.85},{"k":"FZD1","g":"b","t":0.22,"s":0.81},{"k":"FZD1","g":"b","t":0.36,"s":0.76},{"k":"FZD1","g":"b","t":0.52,"s":0.68},{"k":"FZD1","g":"b","t":0.53,"s":0.59},{"k":"FZD1","g":"b","t":0.98,"s":0.59},
{"k":"FZD1","g":"b","t":0.3,"s":0.81,"c":1},{"k":"FZD1","g":"b","t":0.7,"s":0.59,"c":1},{"k":"FZD1","g":"b","t":0.85,"s":0.59,"c":1},

{"k":"FOS","g":"r","t":0,"s":1},{"k":"FOS","g":"r","t":0.04,"s":0.96},{"k":"FOS","g":"r","t":0.08,"s":0.93},{"k":"FOS","g":"r","t":0.13,"s":0.9},{"k":"FOS","g":"r","t":0.2,"s":0.86},{"k":"FOS","g":"r","t":0.3,"s":0.8},{"k":"FOS","g":"r","t":0.38,"s":0.76},{"k":"FOS","g":"r","t":0.5,"s":0.64},{"k":"FOS","g":"r","t":0.67,"s":0.49},{"k":"FOS","g":"r","t":0.69,"s":0.37},{"k":"FOS","g":"r","t":0.93,"s":0.37},
{"k":"FOS","g":"r","t":0.8,"s":0.37,"c":1},
{"k":"FOS","g":"b","t":0,"s":1},{"k":"FOS","g":"b","t":0.04,"s":0.96},{"k":"FOS","g":"b","t":0.08,"s":0.93},{"k":"FOS","g":"b","t":0.12,"s":0.9},{"k":"FOS","g":"b","t":0.16,"s":0.87},{"k":"FOS","g":"b","t":0.2,"s":0.85},{"k":"FOS","g":"b","t":0.3,"s":0.8},{"k":"FOS","g":"b","t":0.4,"s":0.75},{"k":"FOS","g":"b","t":0.47,"s":0.68},{"k":"FOS","g":"b","t":0.49,"s":0.477},{"k":"FOS","g":"b","t":0.99,"s":0.477},
{"k":"FOS","g":"b","t":0.7,"s":0.477,"c":1},{"k":"FOS","g":"b","t":0.85,"s":0.477,"c":1},

{"k":"IGF1","g":"r","t":0,"s":1},{"k":"IGF1","g":"r","t":0.03,"s":0.95},{"k":"IGF1","g":"r","t":0.06,"s":0.9},{"k":"IGF1","g":"r","t":0.1,"s":0.86},{"k":"IGF1","g":"r","t":0.14,"s":0.8},{"k":"IGF1","g":"r","t":0.19,"s":0.75},{"k":"IGF1","g":"r","t":0.24,"s":0.71},{"k":"IGF1","g":"r","t":0.3,"s":0.65},{"k":"IGF1","g":"r","t":0.37,"s":0.57},{"k":"IGF1","g":"r","t":0.5,"s":0.53},{"k":"IGF1","g":"r","t":0.68,"s":0},
{"k":"IGF1","g":"r","t":0.6,"s":0.53,"c":1},
{"k":"IGF1","g":"b","t":0,"s":1},{"k":"IGF1","g":"b","t":0.03,"s":0.96},{"k":"IGF1","g":"b","t":0.06,"s":0.92},{"k":"IGF1","g":"b","t":0.09,"s":0.88},{"k":"IGF1","g":"b","t":0.12,"s":0.84},{"k":"IGF1","g":"b","t":0.16,"s":0.79},{"k":"IGF1","g":"b","t":0.2,"s":0.74},{"k":"IGF1","g":"b","t":0.25,"s":0.7},{"k":"IGF1","g":"b","t":0.3,"s":0.66},{"k":"IGF1","g":"b","t":0.37,"s":0.6},{"k":"IGF1","g":"b","t":0.48,"s":0.56},{"k":"IGF1","g":"b","t":0.67,"s":0.465},{"k":"IGF1","g":"b","t":0.95,"s":0.465},
{"k":"IGF1","g":"b","t":0.8,"s":0.465,"c":1}
]
},
"data": {"name": "curves"},
"transform": [
{"lookup": "k", "from": {"data": {"name": "panels"}, "key": "k", "fields": ["row", "col", "p", "box"]}}
],
"facet": {
"row": {"field": "row", "type": "ordinal", "title": "Survival (%)",
"header": {"labels": false, "titleFontSize": 47, "titleFont": "Lato", "titleFontWeight": "bold", "titleColor": "#000", "titlePadding": 23}},
"column": {"field": "col", "type": "ordinal", "title": null, "header": {"labels": false}}
},
"spacing": {"row": 31.5, "column": 40.5},
"bounds": "flush",
"resolve": {"axis": {"x": "independent", "y": "independent"}},
"spec": {
"width": 166,
"height": 167,
"layer": [
{
"transform": [{"filter": "datum.t == 0 && datum.g == 'r' && !datum.c"}],
"mark": {"type": "rect", "fill": "#ffffff", "fillOpacity": 0, "strokeWidth": 3.5},
"encoding": {
"x": {"datum": -0.06, "type": "quantitative", "scale": {"domain": [0, 1], "nice": false, "zero": false}},
"x2": {"datum": 1.09},
"y": {"datum": -0.051, "type": "quantitative", "scale": {"domain": [0, 1], "nice": false, "zero": false}},
"y2": {"datum": 1.06},
"stroke": {"field": "box", "type": "nominal", "scale": {"domain": ["red", "blue"], "range": ["#ff0000", "#0070c0"]}, "legend": null}
}
},
{
"transform": [{"filter": "!datum.c"}],
"mark": {"type": "line", "interpolate": "step-after", "strokeWidth": 1.3, "opacity": 0.6},
"encoding": {
"x": {"field": "t", "type": "quantitative", "title": null, "axis": {"labels": false, "grid": false, "title": null, "tickSize": 3, "values": [0, 0.1, 0.2, 0.3, 0.4, 0.5, 0.6, 0.7, 0.8, 0.9, 1], "domainColor": "#a6a6a6", "tickColor": "#a6a6a6"}},
"y": {"field": "s", "type": "quantitative", "title": null, "axis": {"labels": false, "grid": false, "title": null, "tickSize": 3, "values": [0, 0.2, 0.4, 0.6, 0.8, 1], "domainColor": "#a6a6a6", "tickColor": "#a6a6a6"}},
"color": {"field": "g", "type": "nominal", "scale": {"domain": ["r", "b"], "range": ["#ff0000", "#1a1aff"]}, "legend": null}
}
},
{
"transform": [{"filter": "datum.c == 1"}],
"mark": {"type": "tick", "orient": "vertical", "size": 4, "thickness": 1, "opacity": 0.7},
"encoding": {
"x": {"field": "t", "type": "quantitative", "title": null},
"y": {"field": "s", "type": "quantitative", "title": null},
"color": {"field": "g", "type": "nominal", "legend": null}
}
},
{
"transform": [{"filter": "datum.t == 0 && datum.g == 'r' && !datum.c"}],
"mark": {"type": "text", "font": "Lato", "fontWeight": "bold", "fontSize": 24, "align": "center", "baseline": "alphabetic", "color": "#000"},
"encoding": {
"x": {"datum": 0.68, "type": "quantitative"},
"y": {"datum": 0.882, "type": "quantitative"},
"text": {"field": "k"}
}
},
{
"transform": [{"filter": "datum.t == 0 && datum.g == 'r' && !datum.c"}],
"mark": {"type": "text", "font": "Lato", "fontSize": 26, "align": "left", "baseline": "alphabetic", "color": "#000"},
"encoding": {
"x": {"datum": 0.045, "type": "quantitative"},
"y": {"datum": 0.062, "type": "quantitative"},
"text": {"field": "p"}
}
}
]
},
"config": {"view": {"stroke": null}}
}
